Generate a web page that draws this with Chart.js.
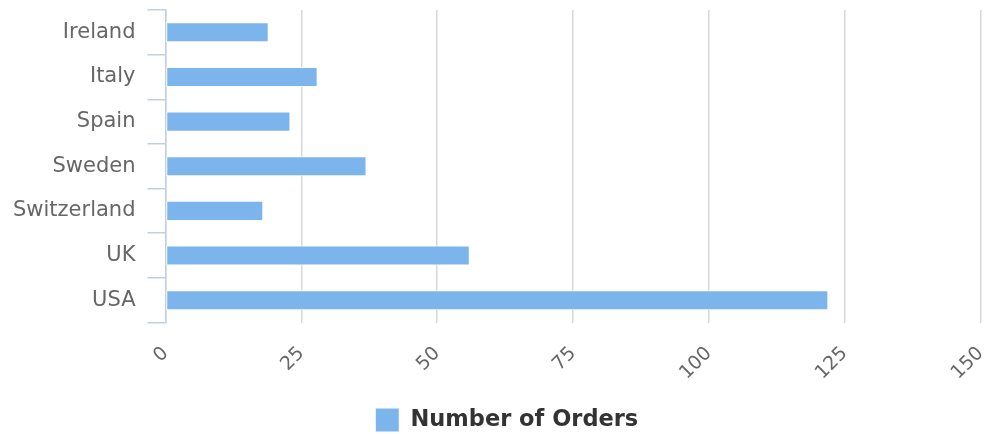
<!DOCTYPE html>
<html>
<head>
<meta charset="utf-8">
<script src="https://cdn.jsdelivr.net/npm/chart.js@4"></script>
<style>
html,body{margin:0;padding:0;background:#fff;}
#wrap{width:984px;height:434px;position:relative;}
</style>
</head>
<body>
<div id="wrap"><canvas id="c" width="984" height="434"></canvas></div>
<script>
const categories = ["Ireland", "Italy", "Spain", "Sweden", "Switzerland", "UK", "USA"];
const orders = [19, 28, 23, 37, 18, 56, 122];
const seriesName = "Number of Orders";
const xTicks = [0, 25, 50, 75, 100, 125, 150];

const legendShift = {
  id: 'legendShift',
  afterLayout(chart) {
    const lg = chart.legend;
    if (lg) { lg.left += 16.5; lg.right += 16.5; lg.top += 8; lg.bottom += 8; }
  }
};

new Chart(document.getElementById('c'), {
  type: 'bar',
  data: {
    labels: categories,
    datasets: [{
      label: seriesName,
      data: orders,
      backgroundColor: '#7CB5EC',
      borderColor: '#ffffff',
      borderWidth: 1,
      borderSkipped: false,
      barPercentage: 0.9,
      categoryPercentage: 0.5
    }]
  },
  plugins: [legendShift],
  options: {
    indexAxis: 'y',
    responsive: false,
    animation: false,
    devicePixelRatio: 1,
    layout: { padding: { top: 10, right: 3.5, left: 0, bottom: 0 } },
    plugins: {
      tooltip: { enabled: false },
      legend: {
        position: 'bottom',
        labels: {
          boxWidth: 24,
          boxHeight: 24,
          padding: 0,
          color: '#333333',
          font: { family: 'DejaVu Sans', size: 22.5, weight: 'bold' }
        }
      }
    },
    scales: {
      x: {
        min: 0, max: 150,
        afterBuildTicks: (s) => { s.ticks = xTicks.map(v => ({ value: v })); },
        afterFit: (s) => { s.height = 77.5; s.paddingLeft = 0; s.paddingRight = 0; },
        grid: { color: '#D8D8D8', lineWidth: 1.5, drawTicks: false },
        border: { display: false },
        ticks: {
          color: '#666666',
          font: { family: 'DejaVu Sans', size: 19 },
          minRotation: 45, maxRotation: 45,
          padding: 20
        }
      },
      y: {
        afterFit: (s) => { s.width = 165.5; s.paddingTop = 0; s.paddingBottom = 0; },
        grid: { offset: true, drawOnChartArea: false, color: '#C0D0E0', lineWidth: 1.5, tickLength: 18 },
        border: { color: '#C0D0E0', width: 1.5 },
        ticks: {
          color: '#666666',
          font: { family: 'DejaVu Sans', size: 21 },
          padding: 12
        }
      }
    }
  }
});
</script>
</body>
</html>
